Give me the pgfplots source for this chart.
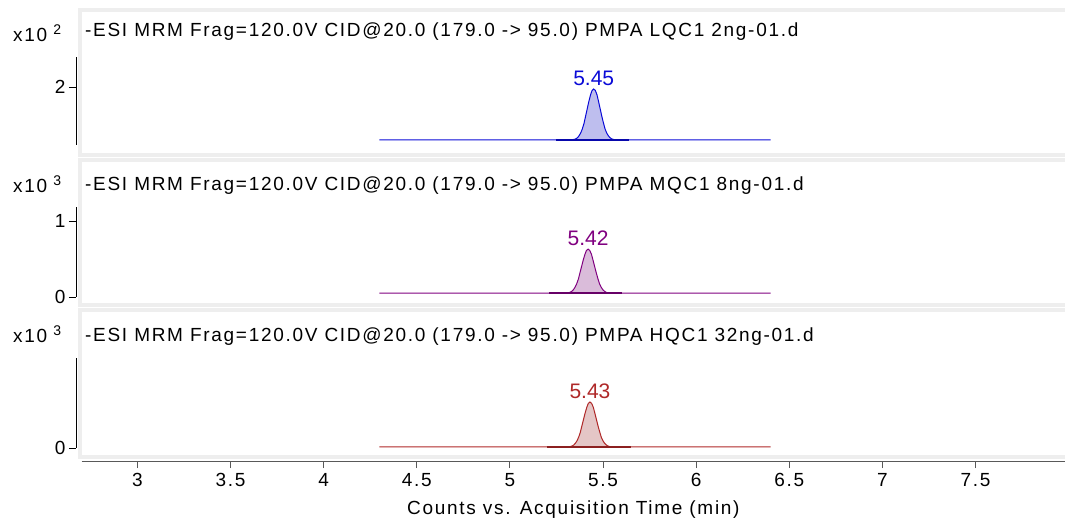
\documentclass[border=0pt]{standalone}
\usepackage{fontspec}
\setmainfont{Liberation Sans}[LetterSpace=9]
\newfontfamily\plain{Liberation Sans}
\usepackage{pgfplots}
\pgfplotsset{compat=1.18}
\definecolor{cblue}{RGB}{10,10,215}
\definecolor{cbluef}{RGB}{190,190,238}
\definecolor{cpur}{RGB}{128,0,128}
\definecolor{cpurf}{RGB}{218,188,218}
\definecolor{cred}{RGB}{175,40,40}
\definecolor{credf}{RGB}{228,198,198}
\definecolor{frame}{RGB}{238,238,238}
\newcommand{\fs}{\fontsize{19}{20}\selectfont}
\newcommand{\fp}{\plain\fontsize{21}{22}\selectfont}
\pgfplotsset{
  panel/.style={scale only axis, width=989pt, xmin=2.671, xmax=7.980,
    hide x axis, axis y line*=left, tick align=outside, major tick length=7pt,
    y axis line style={line width=1pt, black}, ytick style={black, line width=0.8pt},
    tick label style={font=\fs}, /pgf/number format/assume math mode=true,
    clip mode=individual, anchor=south west},
}
\begin{document}
\begin{tikzpicture}[x=1pt,y=1pt]
\useasboundingbox (0,0) rectangle (1065,522);
% panel frames
\draw[frame, line width=4pt] (1080,512) -- (79.5,512) -- (79.5,367) -- (1080,367);
\draw[frame, line width=4pt] (1080,361.7) -- (79.5,361.7) -- (79.5,216.5) -- (1080,216.5);
\draw[frame, line width=4pt] (1080,211.5) -- (79.5,211.5) -- (79.5,65) -- (1080,65);
% titles
\node[anchor=base west, inner sep=0, font=\fs] at (85,485) {-ESI MRM Frag=120.0V CID@20.0 (179.0 -> 95.0) PMPA LQC1 2ng-01.d};
\node[anchor=base west, inner sep=0, font=\fs] at (85,331) {-ESI MRM Frag=120.0V CID@20.0 (179.0 -> 95.0) PMPA MQC1 8ng-01.d};
\node[anchor=base west, inner sep=0, font=\fs] at (85,180.3) {-ESI MRM Frag=120.0V CID@20.0 (179.0 -> 95.0) PMPA HQC1 32ng-01.d};
\node[anchor=base west, inner sep=0, font=\fs] at (13,480.5) {x10\hspace{6pt}\raisebox{7pt}{\fontsize{14}{14}\selectfont 2}};
\node[anchor=base west, inner sep=0, font=\fs] at (13,329.7) {x10\hspace{6pt}\raisebox{7pt}{\fontsize{14}{14}\selectfont 3}};
\node[anchor=base west, inner sep=0, font=\fs] at (13,179.3) {x10\hspace{6pt}\raisebox{7pt}{\fontsize{14}{14}\selectfont 3}};

% ---------- panel 1 ----------
\begin{axis}[panel, height=88pt, at={(76pt,377pt)}, ymin=1.033, ymax=2.5, ytick={2}]
\addplot[fill=cbluef, draw=none] coordinates {
(5.328,1.119)(5.345,1.126)(5.354,1.136)(5.363,1.154)(5.371,1.185)(5.380,1.232)(5.389,1.301)
(5.398,1.393)(5.406,1.506)(5.415,1.633)(5.424,1.759)(5.433,1.867)(5.441,1.941)(5.450,1.967)
(5.459,1.941)(5.468,1.867)(5.476,1.759)(5.485,1.633)(5.494,1.506)(5.503,1.393)(5.511,1.301)
(5.520,1.232)(5.529,1.185)(5.538,1.154)(5.546,1.136)(5.555,1.126)(5.573,1.119)} -- cycle;
\addplot[cblue, line width=1pt] coordinates {
(4.30,1.117)(4.80,1.118)(5.20,1.117)(5.30,1.118)
(5.328,1.119)(5.345,1.126)(5.354,1.136)(5.363,1.154)(5.371,1.185)(5.380,1.232)(5.389,1.301)
(5.398,1.393)(5.406,1.506)(5.415,1.633)(5.424,1.759)(5.433,1.867)(5.441,1.941)(5.450,1.967)
(5.459,1.941)(5.468,1.867)(5.476,1.759)(5.485,1.633)(5.494,1.506)(5.503,1.393)(5.511,1.301)
(5.520,1.232)(5.529,1.185)(5.538,1.154)(5.546,1.136)(5.555,1.126)(5.573,1.119)
(5.60,1.118)(5.80,1.117)(6.10,1.118)(6.40,1.117)};
\addplot[cblue!80!black, line width=2pt] coordinates {(5.25,1.117)(5.64,1.117)};
\node[anchor=south, inner sep=0, font=\fp, text=cblue] at (axis cs:5.45,1.967) [yshift=3pt] {5.45};
\end{axis}

% ---------- panel 2 ----------
\begin{axis}[panel, height=90pt, at={(76pt,225pt)}, ymin=0, ymax=1.184, ytick={0,1}]
\addplot[fill=cpurf, draw=none] coordinates {
(5.298,0.051)(5.315,0.056)(5.324,0.063)(5.333,0.076)(5.341,0.096)(5.350,0.129)(5.359,0.176)
(5.368,0.238)(5.376,0.316)(5.385,0.402)(5.394,0.488)(5.403,0.562)(5.411,0.612)(5.420,0.630)
(5.429,0.612)(5.438,0.562)(5.446,0.488)(5.455,0.402)(5.464,0.316)(5.473,0.238)(5.481,0.176)
(5.490,0.129)(5.499,0.096)(5.508,0.076)(5.516,0.063)(5.525,0.056)(5.543,0.051)} -- cycle;
\addplot[cpur, line width=1pt] coordinates {
(4.30,0.050)(4.80,0.051)(5.20,0.050)(5.27,0.050)
(5.298,0.051)(5.315,0.056)(5.324,0.063)(5.333,0.076)(5.341,0.096)(5.350,0.129)(5.359,0.176)
(5.368,0.238)(5.376,0.316)(5.385,0.402)(5.394,0.488)(5.403,0.562)(5.411,0.612)(5.420,0.630)
(5.429,0.612)(5.438,0.562)(5.446,0.488)(5.455,0.402)(5.464,0.316)(5.473,0.238)(5.481,0.176)
(5.490,0.129)(5.499,0.096)(5.508,0.076)(5.516,0.063)(5.525,0.056)(5.543,0.051)
(5.58,0.050)(5.80,0.050)(6.10,0.051)(6.40,0.050)};
\addplot[cpur!80!black, line width=2pt] coordinates {(5.21,0.050)(5.60,0.050)};
\node[anchor=south, inner sep=0, font=\fp, text=cpur] at (axis cs:5.42,0.630) [yshift=3pt] {5.42};
\end{axis}

% ---------- panel 3 ----------
\begin{axis}[panel, height=90.3pt, at={(76pt,74pt)}, ymin=0, ymax=0.903, ytick={0}]
\addplot[fill=credf, draw=none] coordinates {
(5.308,0.011)(5.325,0.015)(5.334,0.020)(5.343,0.030)(5.351,0.046)(5.360,0.071)(5.369,0.107)
(5.378,0.156)(5.386,0.216)(5.395,0.283)(5.404,0.350)(5.413,0.407)(5.421,0.446)(5.430,0.460)
(5.439,0.446)(5.448,0.407)(5.456,0.350)(5.465,0.283)(5.474,0.216)(5.483,0.156)(5.491,0.107)
(5.500,0.071)(5.509,0.046)(5.518,0.030)(5.526,0.020)(5.535,0.015)(5.553,0.011)} -- cycle;
\addplot[cred, line width=1pt] coordinates {
(4.30,0.010)(4.80,0.011)(5.20,0.010)(5.28,0.010)
(5.308,0.011)(5.325,0.015)(5.334,0.020)(5.343,0.030)(5.351,0.046)(5.360,0.071)(5.369,0.107)
(5.378,0.156)(5.386,0.216)(5.395,0.283)(5.404,0.350)(5.413,0.407)(5.421,0.446)(5.430,0.460)
(5.439,0.446)(5.448,0.407)(5.456,0.350)(5.465,0.283)(5.474,0.216)(5.483,0.156)(5.491,0.107)
(5.500,0.071)(5.509,0.046)(5.518,0.030)(5.526,0.020)(5.535,0.015)(5.553,0.011)
(5.59,0.010)(5.80,0.010)(6.10,0.011)(6.40,0.010)};
\addplot[cred!80!black, line width=2pt] coordinates {(5.20,0.010)(5.65,0.010)};
\node[anchor=south, inner sep=0, font=\fp, text=cred] at (axis cs:5.43,0.460) [yshift=3pt] {5.43};
\end{axis}

% ---------- shared x axis ----------
\begin{axis}[scale only axis, width=983.3pt, height=10pt, at={(81.7pt,61pt)}, anchor=south west,
  xmin=2.7016, xmax=7.98, ymin=0, ymax=1, axis x line*=bottom, hide y axis,
  tick align=outside, major tick length=7pt,
  x axis line style={line width=1pt, black!65}, xtick style={black!65, line width=0.8pt},
  xtick={3,3.5,4,4.5,5,5.5,6,6.5,7,7.5},
  xticklabels={3,3.5,4,4.5,5,5.5,6,6.5,7,7.5},
  tick label style={font=\fs}, xticklabel style={yshift=-2pt},
  xlabel={Counts vs. Acquisition Time (min)}, xlabel style={font=\fs, yshift=-7pt}]
\end{axis}
\end{tikzpicture}
\end{document}
